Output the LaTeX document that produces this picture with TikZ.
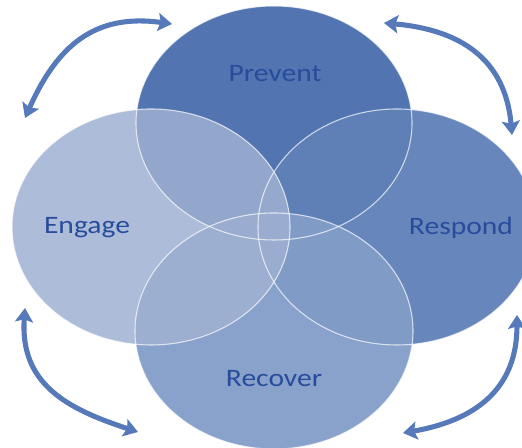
\documentclass[tikz,border=0pt]{standalone}
\usepackage{fontspec}
\setmainfont{Carlito}
\usetikzlibrary{arrows.meta}

\definecolor{preventblue}{RGB}{82,116,176}
\definecolor{respondblue}{RGB}{95,129,184}
\definecolor{recoverblue}{RGB}{131,157,200}
\definecolor{engageblue}{RGB}{159,177,210}
\definecolor{arrowblue}{RGB}{86,121,186}
\definecolor{textblue}{RGB}{40,76,156}

\begin{document}
\begin{tikzpicture}[x=0.75pt,y=0.75pt,
    lbl/.style={text=textblue,font=\fontsize{18.8}{22}\selectfont,xscale=1.18,transform shape},
    cyc/.style={<->,>={Stealth[length=10.5pt,width=13.5pt,inset=2pt]},line width=3.8pt,draw=arrowblue},
    rim/.style={draw=white,draw opacity=0.7,line width=0.8pt}]
        \useasboundingbox (0,0) rectangle (522,448);
        \clip (0,0) rectangle (522,448);
        \coordinate (P) at (274,325);
        \coordinate (E) at (151,221);
        \coordinate (R) at (397,221);
        \coordinate (V) at (274,117);
        % the four ellipses
        \fill[preventblue] (P) ellipse [x radius=138,y radius=117];
        \fill[respondblue,fill opacity=0.95] (R) ellipse [x radius=139,y radius=118];
        \fill[recoverblue,fill opacity=0.95] (V) ellipse [x radius=139,y radius=118];
        \fill[engageblue,fill opacity=0.85] (E) ellipse [x radius=139,y radius=118];
        \draw[rim] (P) ellipse [x radius=138,y radius=117];
        \draw[rim] (R) ellipse [x radius=139,y radius=118];
        \draw[rim] (V) ellipse [x radius=139,y radius=118];
        \draw[rim] (E) ellipse [x radius=139,y radius=118];
        % labels
        \node[lbl] (prevent) at (275,374) {Prevent};
        \node[lbl] (engage) at (87,220) {Engage};
        \node[lbl] (respond) at (461,220) {Respond};
        \node[lbl] (recover) at (274,69) {Recover};
        % arrows between the stages
        \coordinate (a1) at (25,330);
        \coordinate (a2) at (172,424);
        \coordinate (b1) at (384,425);
        \coordinate (b2) at (512,313);
        \coordinate (c1) at (25,140);
        \coordinate (c2) at (138,16);
        \coordinate (d1) at (403,15);
        \coordinate (d2) at (517,133);
        \draw[cyc] (a1) to[out=66,in=172,looseness=1.15] (a2);
        \draw[cyc] (b1) to[out=-5,in=95,looseness=1.15] (b2);
        \draw[cyc] (c1) to[out=266,in=162,looseness=1.15] (c2);
        \draw[cyc] (d1) to[out=10,in=270,looseness=1.15] (d2);
\end{tikzpicture}
\end{document}
